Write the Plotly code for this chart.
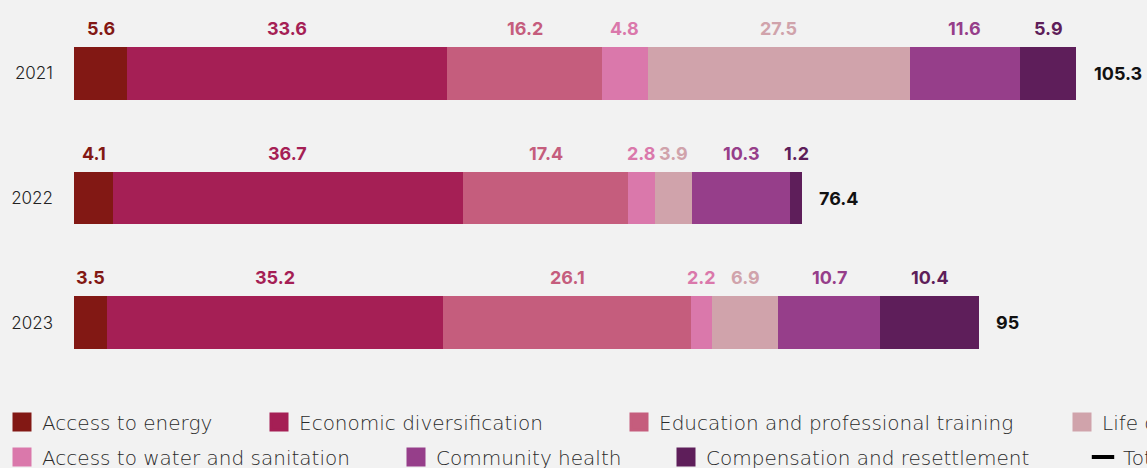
import plotly.graph_objects as go

# ---- data -------------------------------------------------------------
years = ["2021", "2022", "2023"]

categories = [
    "Access to energy",
    "Economic diversification",
    "Education and professional training",
    "Access to water and sanitation",
    "Life conditions",
    "Community health",
    "Compensation and resettlement",
]

access_to_energy = [5.6, 4.1, 3.5]
economic_diversification = [33.6, 36.7, 35.2]
education_training = [16.2, 17.4, 26.1]
water_sanitation = [4.8, 2.8, 2.2]
life_conditions = [27.5, 3.9, 6.9]
community_health = [11.6, 10.3, 10.7]
compensation_resettlement = [5.9, 1.2, 10.4]

totals = [105.3, 76.4, 95]
total_labels = ["105.3", "76.4", "95"]

series = [
    access_to_energy,
    economic_diversification,
    education_training,
    water_sanitation,
    life_conditions,
    community_health,
    compensation_resettlement,
]

# ---- styling ----------------------------------------------------------
colors = ["#821814", "#a51f55", "#c55d7d", "#da78ab", "#d0a3ab", "#963e8a", "#5e1e5a"]
BG = "#f2f2f2"
FONT = "Inter"
LEGEND_FONT = "DejaVu Sans"
W, H = 1147, 468

# legend slot per entry: (left edge of the swatch in px, row centre in px)
legend_slots = {
    "Access to energy": (14, 422),
    "Economic diversification": (271, 422),
    "Education and professional training": (631, 422),
    "Life conditions": (1074, 422),
    "Access to water and sanitation": (14, 457),
    "Community health": (408, 457),
    "Compensation and resettlement": (678, 457),
    "Total": (1095, 457),
}

fig = go.Figure()

# stacked bars
for name, vals, col in zip(categories, series, colors):
    fig.add_trace(go.Bar(
        y=years, x=vals, name=name, orientation="h",
        marker=dict(color=col, line=dict(width=0)),
        legendgroup=name, showlegend=False, hoverinfo="x+name",
    ))

# value labels above each segment (y given as the category's position index)
annotations = []
for k, (vals, col) in enumerate(zip(series, colors)):
    for i in range(len(years)):
        base = sum(s[i] for s in series[:k])
        annotations.append(dict(
            x=base + vals[i] / 2, y=i, xref="x", yref="y",
            text=f"{vals[i]:g}", showarrow=False, yshift=45,
            xanchor="center", yanchor="middle",
            font=dict(family=FONT, size=18, color=col, weight=700),
        ))

# totals at the end of each bar
for i, (t, lbl) in enumerate(zip(totals, total_labels)):
    annotations.append(dict(
        x=t, y=i, xref="x", yref="y", text=lbl, showarrow=False,
        xanchor="left", yanchor="middle", xshift=15,
        font=dict(family=FONT, size=18, color="#111111", weight=700),
    ))

# legend entries, each one in its own legend box so it can sit at its own spot;
# they live on a hidden pair of axes so they never touch the bar axes
legend_layouts = {}
names = categories + ["Total"]
for k, name in enumerate(names):
    key = "legend" if k == 0 else f"legend{k + 1}"
    left, cy = legend_slots[name]
    if name == "Total":
        marker = dict(symbol="line-ew", size=16, color="#000000",
                      line=dict(color="#000000", width=4))
    else:
        col = colors[categories.index(name)]
        marker = dict(symbol="square", size=16, color=col,
                      line=dict(color=col, width=3))
    fig.add_trace(go.Scatter(
        x=[None], y=[None], mode="markers", name=name,
        marker=marker, legendgroup=name, showlegend=True, legend=key,
        xaxis="x2", yaxis="y2", hoverinfo="skip",
    ))
    legend_layouts[key] = dict(
        orientation="h", xref="container", yref="container",
        x=(left + 8 - 20) / W, xanchor="left",
        y=1 - cy / H, yanchor="middle",
        bgcolor="rgba(0,0,0,0)", borderwidth=0,
        itemwidth=30,
        font=dict(family=LEGEND_FONT, size=20, color="#2a2a2a", weight=300),
    )

fig.update_layout(
    width=W, height=H,
    paper_bgcolor=BG, plot_bgcolor=BG,
    barmode="stack", bargap=0.576,
    margin=dict(l=74, r=6, t=10.5, b=82.5, autoexpand=False),
    xaxis=dict(range=[0, 112], visible=False, fixedrange=True),
    yaxis=dict(
        type="category", categoryorder="array", categoryarray=years,
        range=[2.5, -0.5], showgrid=False, zeroline=False, showline=False,
        ticks="", ticklabelstandoff=20,
        tickfont=dict(family=FONT, size=17, color="#222222", weight=300),
    ),
    xaxis2=dict(visible=False, overlaying="x", range=[0, 1]),
    yaxis2=dict(visible=False, overlaying="y", range=[0, 1]),
    annotations=annotations,
    **legend_layouts,
)

fig.write_html("out.html")
